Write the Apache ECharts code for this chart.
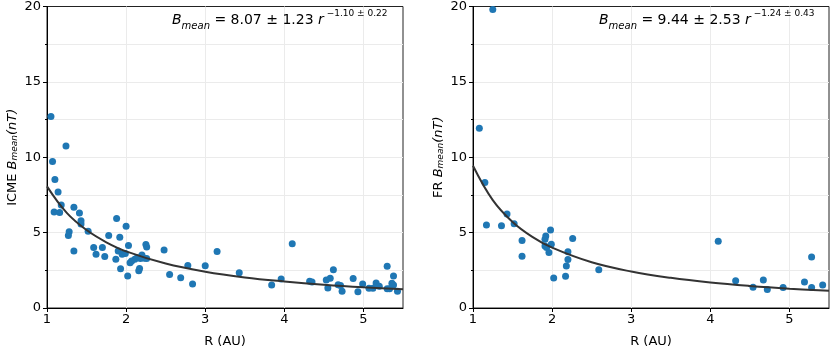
<!DOCTYPE html>
<html>
<head>
<meta charset="utf-8">
<script src="https://cdn.jsdelivr.net/npm/echarts@6/dist/echarts.min.js"></script>
<style>
  html, body { margin: 0; padding: 0; background: #fff; }
  #chart { width: 830px; height: 353px; }
</style>
</head>
<body>
<div id="chart"></div>
<script>
// ICME panel (left)
const icmeR = [1.05, 1.24, 1.07, 1.10, 1.14, 1.18, 1.09, 1.16, 1.34, 1.41, 1.43, 1.43, 1.52, 1.28, 1.27, 1.34,
  1.88, 2.00, 1.78, 1.92, 2.03, 1.59, 1.70, 1.62, 1.73, 1.90, 1.95, 1.99, 1.87, 1.93, 2.02, 2.05,
  2.07, 2.11, 2.14, 2.18, 2.20, 2.23, 2.26, 2.25, 2.26, 2.17, 2.16, 2.48, 2.55, 2.69, 2.78, 2.84,
  3.00, 3.15, 3.43, 3.84, 3.96, 4.10, 4.32, 4.35, 4.53, 4.55, 4.58, 4.62, 4.68, 4.71, 4.73, 4.87,
  4.93, 4.99, 5.07, 5.12, 5.16, 5.20, 5.30, 5.38, 5.36, 5.38, 5.30, 5.33, 5.43]
const icmeB = [12.70, 10.75, 9.72, 8.52, 7.69, 6.84, 6.36, 6.34, 6.69, 6.30, 5.79, 5.57, 5.09, 5.05, 4.81, 3.78,
  5.94, 5.42, 4.81, 4.70, 4.15, 4.02, 4.02, 3.56, 3.41, 3.78, 3.56, 3.61, 3.23, 2.60, 2.12, 3.00,
  3.12, 3.23, 3.34, 3.28, 3.52, 3.30, 3.28, 4.22, 4.04, 2.62, 2.47, 3.85, 2.23, 2.01, 2.82, 1.59,
  2.80, 3.74, 2.34, 1.53, 1.92, 4.26, 1.77, 1.73, 1.86, 1.33, 1.97, 2.54, 1.55, 1.49, 1.11, 1.95,
  1.07, 1.60, 1.31, 1.31, 1.66, 1.44, 2.77, 2.12, 1.64, 1.53, 1.27, 1.27, 1.11]

// FR panel (right)
const frR = [1.25, 1.08, 1.15, 1.17, 1.36, 1.43, 1.52, 1.62, 1.62, 1.92, 1.91, 1.98, 1.91, 1.93, 1.99, 1.96,
  2.02, 2.26, 2.20, 2.20, 2.18, 2.17, 2.59, 4.10, 4.32, 4.54, 4.67, 4.72, 4.92, 5.19, 5.28, 5.28, 5.42]
const frB = [19.8, 11.93, 8.33, 5.51, 5.46, 6.23, 5.59, 4.47, 3.44, 4.78, 4.56, 5.18, 4.12, 4.01, 4.23, 3.68,
  1.99, 4.61, 3.73, 3.22, 2.78, 2.10, 2.53, 4.43, 1.80, 1.38, 1.86, 1.23, 1.36, 1.73, 3.38, 1.36, 1.53]

// fitted curves
const fitR = [1.0, 1.25, 1.5, 1.75, 2.0, 2.5, 3.0, 3.5, 4.0, 4.5, 5.0, 5.5]
const icmeFit = [8.07, 6.31, 5.17, 4.36, 3.76, 2.95, 2.41, 2.03, 1.76, 1.54, 1.37, 1.24]
const frFit = [9.44, 7.16, 5.71, 4.72, 4.00, 3.03, 2.42, 2.00, 1.69, 1.46, 1.28, 1.14]

const yTicks = [0, 5, 10, 15, 20]
const xTicks = [1, 2, 3, 4, 5]

const FONT = 'DejaVu Sans'
const zip = (a, b) => a.map((v, i) => [v, b[i]])

const richName = {
  n: { fontFamily: FONT, fontSize: 13, color: '#000' },
  i: { fontFamily: FONT, fontSize: 13, fontStyle: 'italic', color: '#000' },
  sub: { fontFamily: FONT, fontSize: 9, fontStyle: 'italic', color: '#000', verticalAlign: 'bottom' }
}
const richEq = {
  n: { fontFamily: FONT, fontSize: 14, color: '#000', lineHeight: 22 },
  i: { fontFamily: FONT, fontSize: 14, fontStyle: 'italic', color: '#000', lineHeight: 22 },
  sub: { fontFamily: FONT, fontSize: 10, fontStyle: 'italic', color: '#000', verticalAlign: 'bottom' },
  sup: { fontFamily: FONT, fontSize: 9, color: '#000', verticalAlign: 'top' }
}

const xAxisCfg = idx => ({
  type: 'value',
  gridIndex: idx,
  min: 1,
  max: 5.5,
  interval: 1,
  name: 'R (AU)',
  nameLocation: 'middle',
  nameGap: 27,
  nameTextStyle: { fontFamily: FONT, fontSize: 13, color: '#000' },
  axisLine: { lineStyle: { color: '#000', width: 1 } },
  axisTick: { length: 4, lineStyle: { color: '#000' } },
  axisLabel: {
    fontFamily: FONT, fontSize: 13, color: '#000', margin: 5, showMaxLabel: false,
    formatter: v => xTicks.includes(v) ? String(v) : ''
  },
  splitLine: { show: true, showMinLine: false, showMaxLine: false, lineStyle: { color: '#ebebeb', width: 1 } }
})

const yAxisCfg = (idx, label) => ({
  type: 'value',
  gridIndex: idx,
  min: 0,
  max: 20,
  interval: 5,
  name: label,
  nameLocation: 'middle',
  nameGap: 28,
  nameTextStyle: { rich: richName },
  axisLine: { show: true, lineStyle: { color: '#000', width: 1 } },
  axisTick: { length: 4, lineStyle: { color: '#000' } },
  minorTick: { show: true, splitNumber: 2, length: 2, lineStyle: { color: '#000' } },
  minorSplitLine: { show: true, lineStyle: { color: '#ebebeb', width: 1 } },
  axisLabel: {
    fontFamily: FONT, fontSize: 13, color: '#000', margin: 6,
    formatter: v => yTicks.includes(v) ? String(v) : ''
  },
  splitLine: { show: true, showMinLine: false, showMaxLine: false, lineStyle: { color: '#ebebeb', width: 1 } }
})

const scatterCfg = (idx, data) => ({
  type: 'scatter',
  xAxisIndex: idx,
  yAxisIndex: idx,
  data: data,
  symbolSize: 7,
  itemStyle: { color: '#1f77b4', opacity: 1 },
  z: 3
})

const fitCfg = (idx, data) => ({
  type: 'line',
  xAxisIndex: idx,
  yAxisIndex: idx,
  data: data,
  smooth: 0.4,
  showSymbol: false,
  lineStyle: { color: '#333', width: 2 },
  z: 4
})

const chart = echarts.init(document.getElementById('chart'), null, { renderer: 'canvas' })
chart.setOption({
  animation: false,
  backgroundColor: '#fff',
  grid: [
    { left: 47, top: 6, width: 356, height: 305, show: true, borderColor: '#222', borderWidth: 1, backgroundColor: 'transparent' },
    { left: 473, top: 6, width: 356, height: 305, show: true, borderColor: '#222', borderWidth: 1, backgroundColor: 'transparent' }
  ],
  xAxis: [xAxisCfg(0), xAxisCfg(1)],
  yAxis: [
    yAxisCfg(0, '{n|ICME }{i|B}{sub|mean}{i|(nT)}'),
    yAxisCfg(1, '{n|FR }{i|B}{sub|mean}{i|(nT)}')
  ],
  graphic: [
    {
      type: 'text', left: 172, top: 9, z: 10,
      style: { text: '{i|B}{sub|mean}{n| = 8.07 ± 1.23 }{i|r}{sup| −1.10 ± 0.22}', rich: richEq }
    },
    {
      type: 'text', left: 599, top: 9, z: 10,
      style: { text: '{i|B}{sub|mean}{n| = 9.44 ± 2.53 }{i|r}{sup| −1.24 ± 0.43}', rich: richEq }
    }
  ],
  series: [
    scatterCfg(0, zip(icmeR, icmeB)),
    fitCfg(0, zip(fitR, icmeFit)),
    scatterCfg(1, zip(frR, frB)),
    fitCfg(1, zip(fitR, frFit))
  ]
})
</script>
</body>
</html>
